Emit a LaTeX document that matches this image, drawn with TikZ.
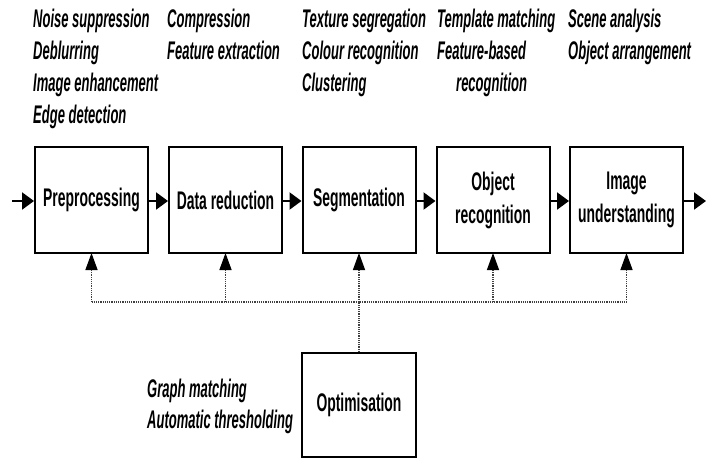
\documentclass[tikz,border=0pt]{standalone}
\usepackage{fontspec}
\setmainfont[FakeStretch=0.545]{Liberation Sans}
\newfontfamily\labfont[FakeStretch=0.51]{Liberation Sans}
\usetikzlibrary{arrows.meta}
\begin{document}
\begin{tikzpicture}[x=1pt,y=-1pt,
  stage/.style={draw, line width=2pt, minimum width=113pt, minimum height=106pt, inner sep=0pt, align=center, font=\fontsize{25.5}{33}\selectfont\bfseries},
  lab/.style={anchor=base west, inner sep=0pt, font=\labfont\fontsize{25.5}{32}\selectfont\bfseries\itshape},
  flow/.style={line width=2.2pt, -{Triangle[length=12pt,width=17pt]}},
  fb/.style={dash pattern=on 1.2pt off 1pt, line width=1.4pt, black!75},
  fbarrow/.style={fb, -{Triangle[length=17pt,width=12pt,fill=black,color=black]}}
]
\useasboundingbox (0,0) rectangle (713,459);
% stages
\node[stage] (pre) at (91.5,200) {Preprocessing};
\node[stage] (dr) at (225.5,200) {Data reduction};
\node[stage] (seg) at (359,200) {Segmentation};
\node[stage] (obj) at (493,200) {Object\\recognition};
\node[stage] (iu) at (626.5,200) {Image\\understanding};
\node[stage, minimum width=114pt, minimum height=104pt] (opt) at (359,405) {Optimisation};
% io
\coordinate (in) at (12,201);
\coordinate (out) at (706,201);
\draw[flow] (in) -- (pre.west |- in);
\draw[flow] (pre.east |- in) -- (dr.west |- in);
\draw[flow] (dr.east |- in) -- (seg.west |- in);
\draw[flow] (seg.east |- in) -- (obj.west |- in);
\draw[flow] (obj.east |- in) -- (iu.west |- in);
\draw[flow] (iu.east |- in) -- (out);
% feedback
\coordinate (bus) at (359,302);
\draw[fb] (opt.north) -- (bus);
\draw[fb] (pre.south |- bus) -- (iu.south |- bus);
\foreach \n in {pre,dr,seg,obj,iu}
  \draw[fbarrow] (\n.south |- bus) -- ([yshift=1pt]\n.south);
% labels
\node[lab] (l11) at (33,27.5) {Noise suppression};
\node[lab] (l12) at (33,59.5) {Deblurring};
\node[lab] (l13) at (33,91.5) {Image enhancement};
\node[lab] (l14) at (33,123.5) {Edge detection};
\node[lab] (l21) at (167,27.5) {Compression};
\node[lab] (l22) at (167,59.5) {Feature extraction};
\node[lab] (l31) at (302,27.5) {Texture segregation};
\node[lab] (l32) at (302,59.5) {Colour recognition};
\node[lab] (l33) at (302,91.5) {Clustering};
\node[lab] (l41) at (437,27.5) {Template matching};
\node[lab] (l42) at (437,59.5) {Feature-based};
\node[lab] (l43) at (456,91.5) {recognition};
\node[lab] (l51) at (568,27.5) {Scene analysis};
\node[lab] (l52) at (568,59.5) {Object arrangement};
\node[lab] (l61) at (147,397) {Graph matching};
\node[lab] (l62) at (147,428) {Automatic thresholding};
\end{tikzpicture}
\end{document}
